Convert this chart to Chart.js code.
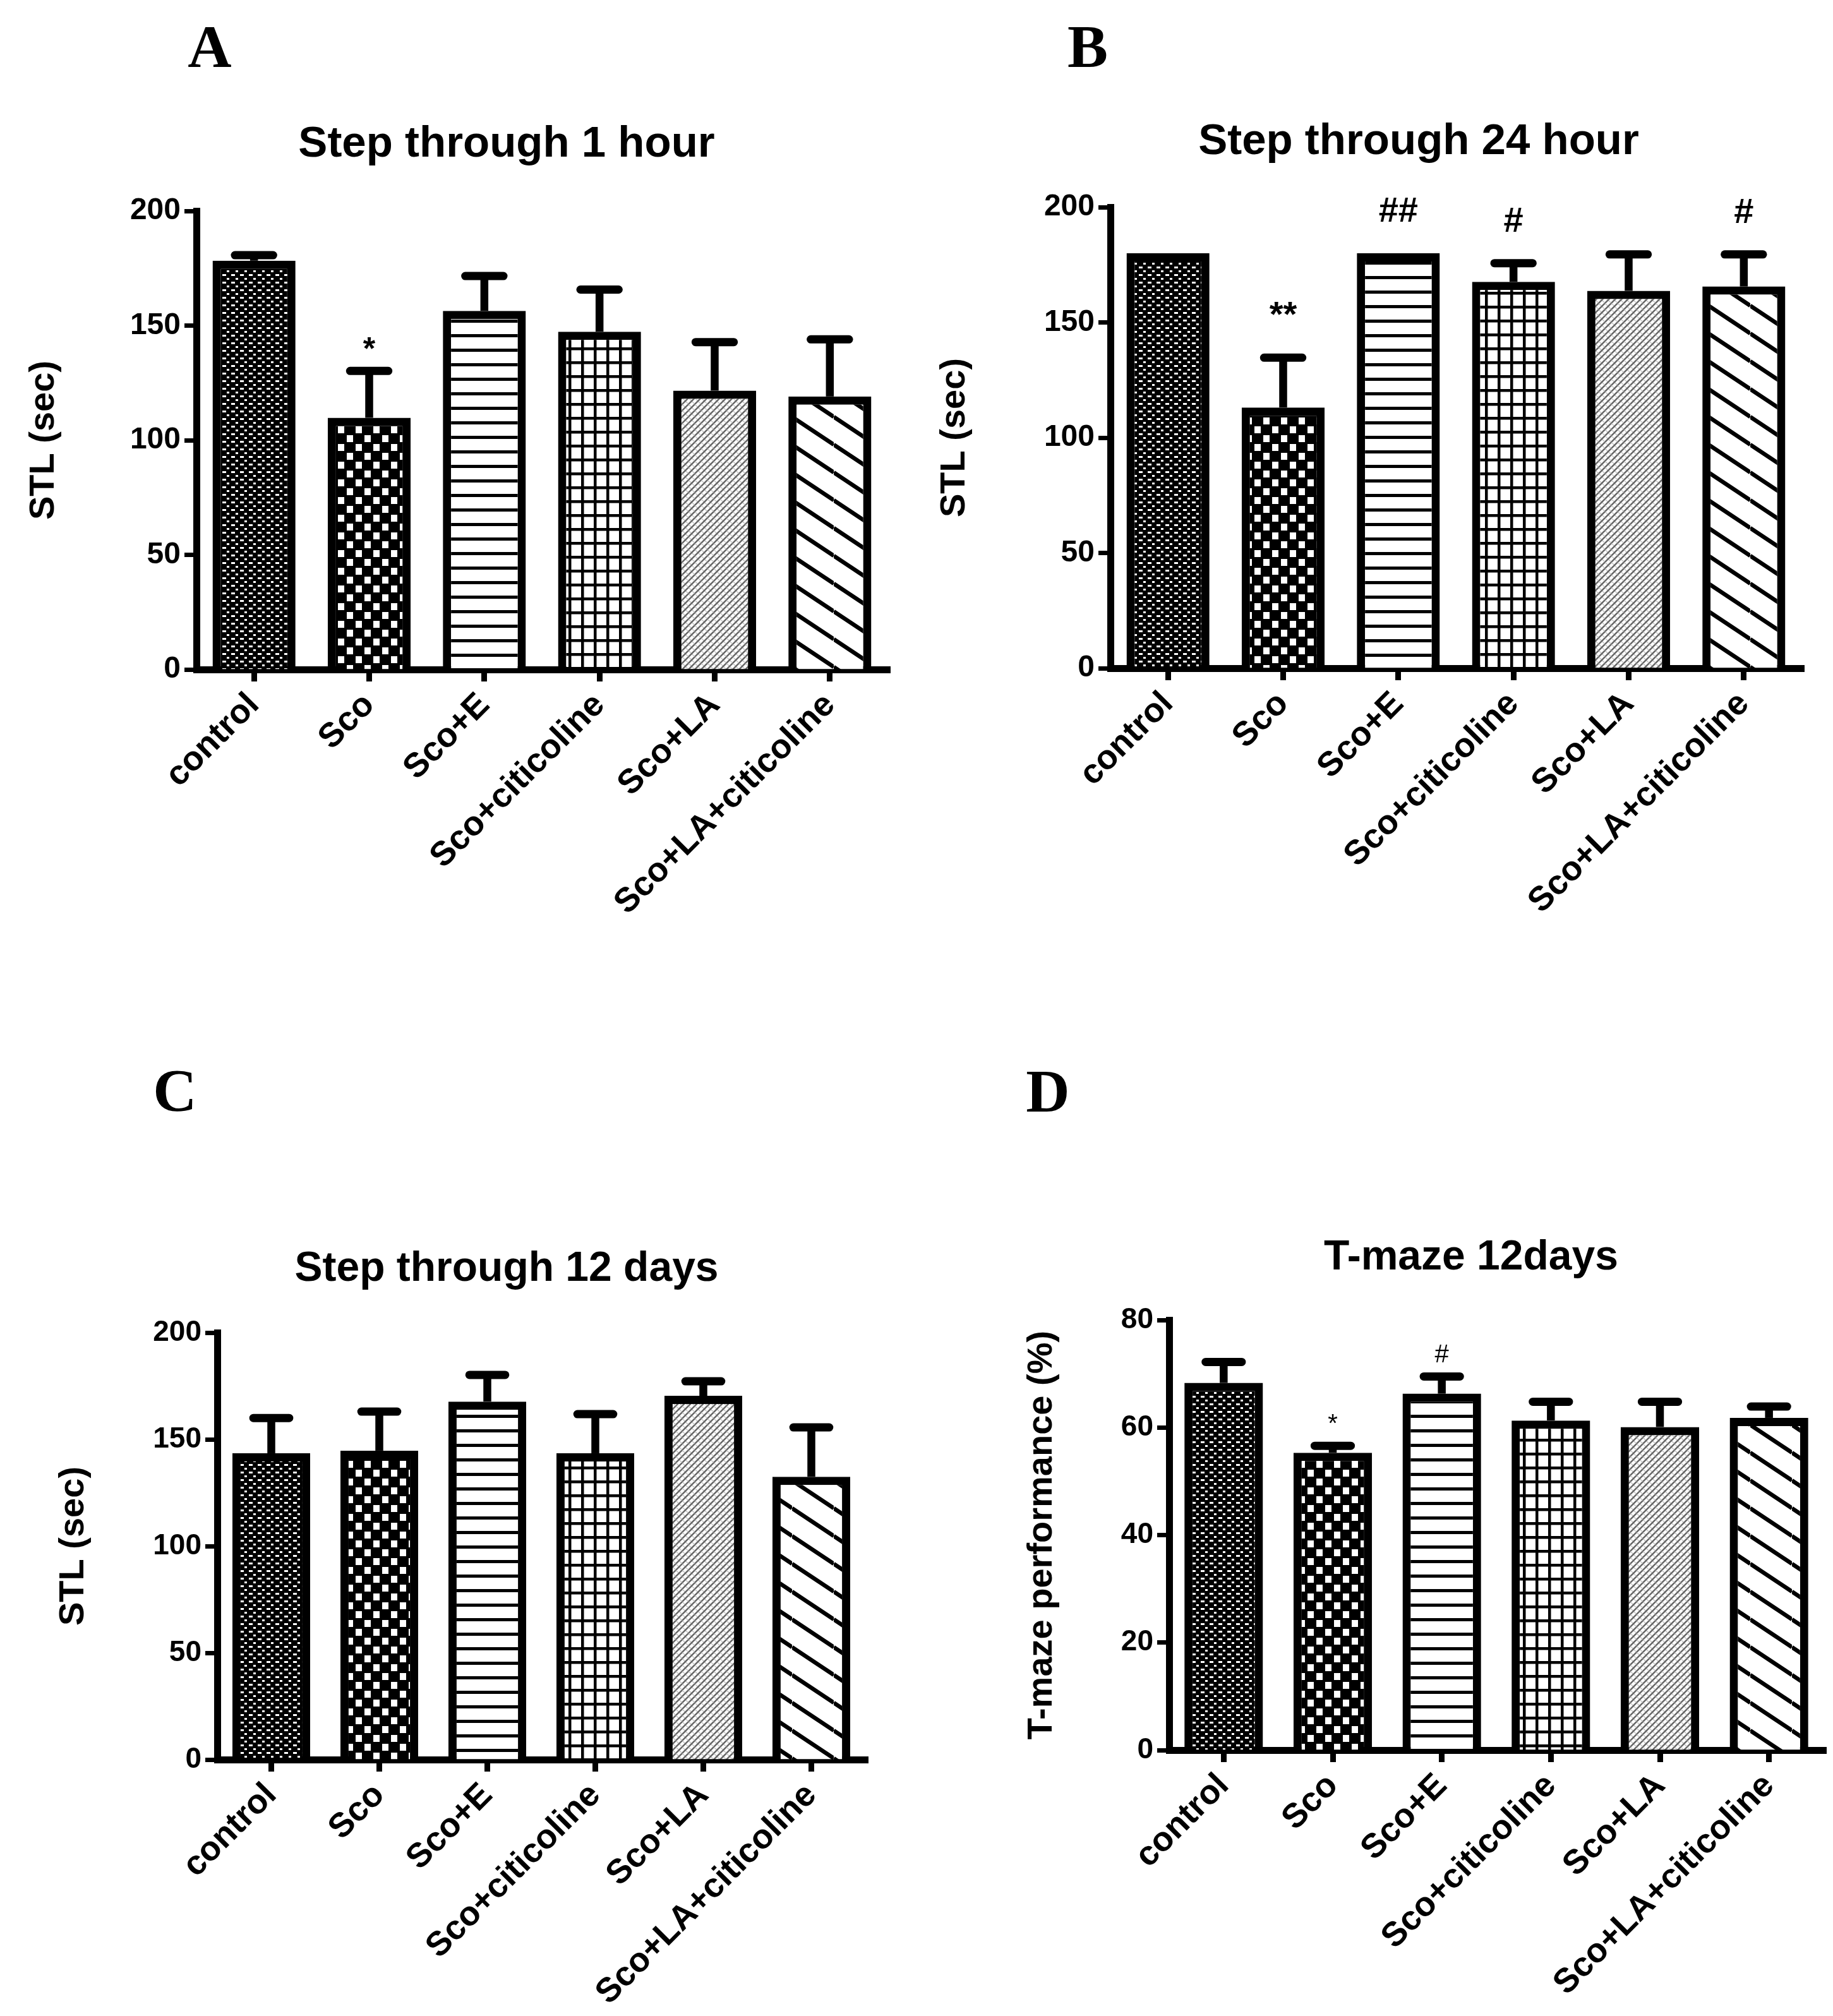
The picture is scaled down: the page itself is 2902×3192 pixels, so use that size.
<!DOCTYPE html>
<html>
<head>
<meta charset="utf-8">
<title>Step through / T-maze</title>
<script src="https://cdn.jsdelivr.net/npm/chart.js@4.4.0/dist/chart.umd.min.js"></script>
<style>
  html, body { margin: 0; padding: 0; background: #fff; }
  #page { position: relative; width: 2902px; height: 3192px; background: #fff; overflow: hidden; }
  canvas { position: absolute; }
  .letter {
    position: absolute; color: #000; line-height: 1;
    font-family: "Liberation Serif", "Times New Roman", serif;
    font-weight: bold; font-size: 96px;
    transform: translate(-50%, -50%);
  }
  .title {
    position: absolute; color: #000; line-height: 1; white-space: nowrap;
    font-family: "Liberation Sans", Arial, sans-serif; font-weight: bold;
    transform: translate(-50%, -50%);
  }
</style>
</head>
<body>
<div id="page">
  <div class="letter" style="left:332px;top:74px">A</div>
  <div class="letter" style="left:1722px;top:74px">B</div>
  <div class="letter" style="left:277px;top:1727px">C</div>
  <div class="letter" style="left:1659px;top:1728px">D</div>

  <div class="title" style="left:802px;top:224px;font-size:69px">Step through 1 hour</div>
  <div class="title" style="left:2246px;top:220px;font-size:69px">Step through 24 hour</div>
  <div class="title" style="left:802px;top:2005px;font-size:66px">Step through 12 days</div>
  <div class="title" style="left:2329px;top:1987px;font-size:66px">T-maze 12days</div>

  <canvas id="chartA" width="1451" height="1596" style="left:0;top:0"></canvas>
  <canvas id="chartB" width="1451" height="1596" style="left:1451px;top:0"></canvas>
  <canvas id="chartC" width="1451" height="1596" style="left:0;top:1596px"></canvas>
  <canvas id="chartD" width="1451" height="1596" style="left:1451px;top:1596px"></canvas>
</div>

<script>
// --- data ---
const groups = ["control", "Sco", "Sco+E", "Sco+citicoline", "Sco+LA", "Sco+LA+citicoline"];

const stl1hMean  = [178.3, 109.8, 156.4, 147.3, 121.6, 119.1];
const stl1hSem   = [2.4, 20.4, 15.2, 18.4, 21.2, 24.9];
const stl1hMarks = ["", "*", "", "", "", ""];

const stl24hMean  = [180, 113.1, 180, 167.6, 163.7, 165.6];
const stl24hSem   = [0, 21.6, 0, 8.1, 15.8, 13.9];
const stl24hMarks = ["", "**", "##", "#", "", "#"];

const stl12dMean  = [143.5, 144.7, 167.7, 143.5, 170.4, 132.5];
const stl12dSem   = [16.5, 18.3, 12.5, 18.3, 6.8, 23.1];
const stl12dMarks = ["", "", "", "", "", ""];

const tmazeMean  = [68.3, 55.3, 66.3, 61.3, 60.1, 61.8];
const tmazeSem   = [3.9, 1.3, 3.2, 3.5, 4.7, 2.1];
const tmazeMarks = ["", "*", "#", "", "", ""];

Chart.defaults.font.family = "'Liberation Sans', Arial, sans-serif";
Chart.defaults.color = "#000";

// --- fill patterns, one per group ---
function tile(ctx, w, h, draw) {
  const c = document.createElement("canvas");
  c.width = w;
  c.height = h;
  const g = c.getContext("2d");
  draw(g, w, h);
  return ctx.createPattern(c, "repeat");
}

function makeFills(ctx) {
  return [
    // control: fine white specks on black
    tile(ctx, 14, 12, (g) => {
      g.fillStyle = "#000"; g.fillRect(0, 0, 14, 12);
      g.fillStyle = "#fff"; g.fillRect(2, 2, 6, 3); g.fillRect(9, 8, 4, 3);
    }),
    // Sco: coarse checker of white squares
    tile(ctx, 28, 28, (g) => {
      g.fillStyle = "#000"; g.fillRect(0, 0, 28, 28);
      g.fillStyle = "#fff"; g.fillRect(3, 3, 10, 11); g.fillRect(17, 17, 10, 11);
    }),
    // Sco+E: horizontal lines
    tile(ctx, 8, 23, (g) => {
      g.fillStyle = "#fff"; g.fillRect(0, 0, 8, 23);
      g.fillStyle = "#000"; g.fillRect(0, 0, 8, 5);
    }),
    // Sco+citicoline: grid
    tile(ctx, 20, 22, (g) => {
      g.fillStyle = "#fff"; g.fillRect(0, 0, 20, 22);
      g.fillStyle = "#000"; g.fillRect(0, 0, 20, 4.5); g.fillRect(0, 0, 4.5, 22);
    }),
    // Sco+LA: fine grey hatch
    tile(ctx, 10, 10, (g, w, h) => {
      g.fillStyle = "#fff"; g.fillRect(0, 0, w, h);
      g.strokeStyle = "#c4c4c4"; g.lineWidth = 1.5;
      for (let k = -1; k <= 1; k++) {
        g.beginPath(); g.moveTo(k * w, 0); g.lineTo(k * w + w, h); g.stroke();
      }
      g.strokeStyle = "#666"; g.lineWidth = 2.5;
      for (let k = -1; k <= 1; k++) {
        g.beginPath(); g.moveTo(k * w, h); g.lineTo(k * w + w, 0); g.stroke();
      }
    }),
    // Sco+LA+citicoline: wide "\" stripes
    tile(ctx, 66, 44, (g, w, h) => {
      g.fillStyle = "#fff"; g.fillRect(0, 0, w, h);
      g.strokeStyle = "#000"; g.lineWidth = 6.5;
      for (let c = -h; c <= h; c += h) {
        g.beginPath(); g.moveTo(0, c); g.lineTo(w, c + h); g.stroke();
      }
    }),
  ];
}

// --- error bars (upper only) and significance marks ---
const errorBarPlugin = {
  id: "errorBars",
  afterDatasetsDraw(chart, args, opts) {
    const ds = chart.data.datasets[0];
    const meta = chart.getDatasetMeta(0);
    const yScale = chart.scales.y;
    const g = chart.ctx;
    g.save();
    g.strokeStyle = "#000";
    g.fillStyle = "#000";
    meta.data.forEach((bar, i) => {
      const top = yScale.getPixelForValue(ds.data[i]);
      const end = yScale.getPixelForValue(ds.data[i] + ds.sem[i]);
      if (ds.sem[i] > 0) {
        const half = bar.width * 0.23;
        g.lineWidth = 12.5;
        g.lineCap = "butt";
        g.beginPath(); g.moveTo(bar.x, top); g.lineTo(bar.x, end); g.stroke();
        g.lineWidth = 13;
        g.lineCap = "round";
        g.beginPath(); g.moveTo(bar.x - half, end); g.lineTo(bar.x + half, end); g.stroke();
      }
      if (ds.marks[i]) {
        g.font = opts.markFont;
        g.textAlign = "center";
        g.textBaseline = "alphabetic";
        g.fillText(ds.marks[i], bar.x, end - opts.markGap);
      }
    });
    g.restore();
  },
};

// --- one panel ---
function buildPanel(id, p) {
  const canvas = document.getElementById(id);
  const ctx = canvas.getContext("2d");
  const W = canvas.width;
  const H = canvas.height;
  return new Chart(ctx, {
    type: "bar",
    data: {
      labels: groups,
      datasets: [
        {
          data: p.mean,
          sem: p.sem,
          marks: p.marks,
          backgroundColor: makeFills(ctx),
          borderColor: "#000",
          borderWidth: 13,
          borderSkipped: "start",
          barPercentage: 0.72,
          categoryPercentage: 1,
        },
      ],
    },
    options: {
      responsive: false,
      animation: false,
      devicePixelRatio: 1,
      layout: {
        padding: { left: p.padLeft, top: p.area.top, right: W - p.area.right, bottom: 0 },
      },
      plugins: {
        legend: { display: false },
        tooltip: { enabled: false },
        errorBars: { markFont: p.markFont, markGap: p.markGap },
      },
      scales: {
        x: {
          grid: {
            offset: false,
            drawOnChartArea: false,
            tickLength: 19,
            tickWidth: 9,
            tickColor: "#000",
            lineWidth: 9,
            color: "#000",
          },
          border: { display: true, color: "#000", width: 11 },
          ticks: {
            color: "#000",
            font: { size: 54, weight: "bold" },
            maxRotation: 45,
            minRotation: 45,
            autoSkip: false,
            padding: 6,
          },
          afterFit: (s) => { s.height = H - p.area.bottom; },
        },
        y: {
          min: 0,
          max: p.yMax,
          ticks: {
            stepSize: p.yStep,
            color: "#000",
            font: { size: p.tickSize, weight: "bold" },
            padding: 6,
          },
          grid: {
            drawOnChartArea: false,
            tickLength: 19,
            tickWidth: 7,
            tickColor: "#000",
            color: "#000",
          },
          border: { display: true, color: "#000", width: 11 },
          title: {
            display: true,
            text: p.yTitle,
            color: "#000",
            font: { size: 56, weight: "bold" },
            padding: 0,
          },
          afterFit: (s) => { s.width = p.area.left - p.padLeft; },
        },
      },
    },
    plugins: [errorBarPlugin],
  });
}

buildPanel("chartA", {
  mean: stl1hMean, sem: stl1hSem, marks: stl1hMarks,
  yMax: 200, yStep: 50, yTitle: "STL (sec)", tickSize: 48,
  area: { left: 311, top: 334, right: 1405, bottom: 1060 }, padLeft: 36,
  markFont: "bold 50px 'Liberation Sans', Arial, sans-serif", markGap: 18,
});

buildPanel("chartB", {
  mean: stl24hMean, sem: stl24hSem, marks: stl24hMarks,
  yMax: 200, yStep: 50, yTitle: "STL (sec)", tickSize: 48,
  area: { left: 307, top: 328, right: 1401, bottom: 1058 }, padLeft: 27,
  markFont: "bold 56px 'Liberation Sans', Arial, sans-serif", markGap: 50,
});

buildPanel("chartC", {
  mean: stl12dMean, sem: stl12dSem, marks: stl12dMarks,
  yMax: 200, yStep: 50, yTitle: "STL (sec)", tickSize: 46,
  area: { left: 344, top: 514, right: 1370, bottom: 1190 }, padLeft: 83,
  markFont: "bold 46px 'Liberation Sans', Arial, sans-serif", markGap: 11,
});

buildPanel("chartD", {
  mean: tmazeMean, sem: tmazeSem, marks: tmazeMarks,
  yMax: 80, yStep: 20, yTitle: "T-maze performance (%)", tickSize: 46,
  area: { left: 400, top: 494, right: 1436, bottom: 1175 }, padLeft: 165,
  markFont: "40px 'Liberation Sans', Arial, sans-serif", markGap: 22,
});
</script>
</body>
</html>
